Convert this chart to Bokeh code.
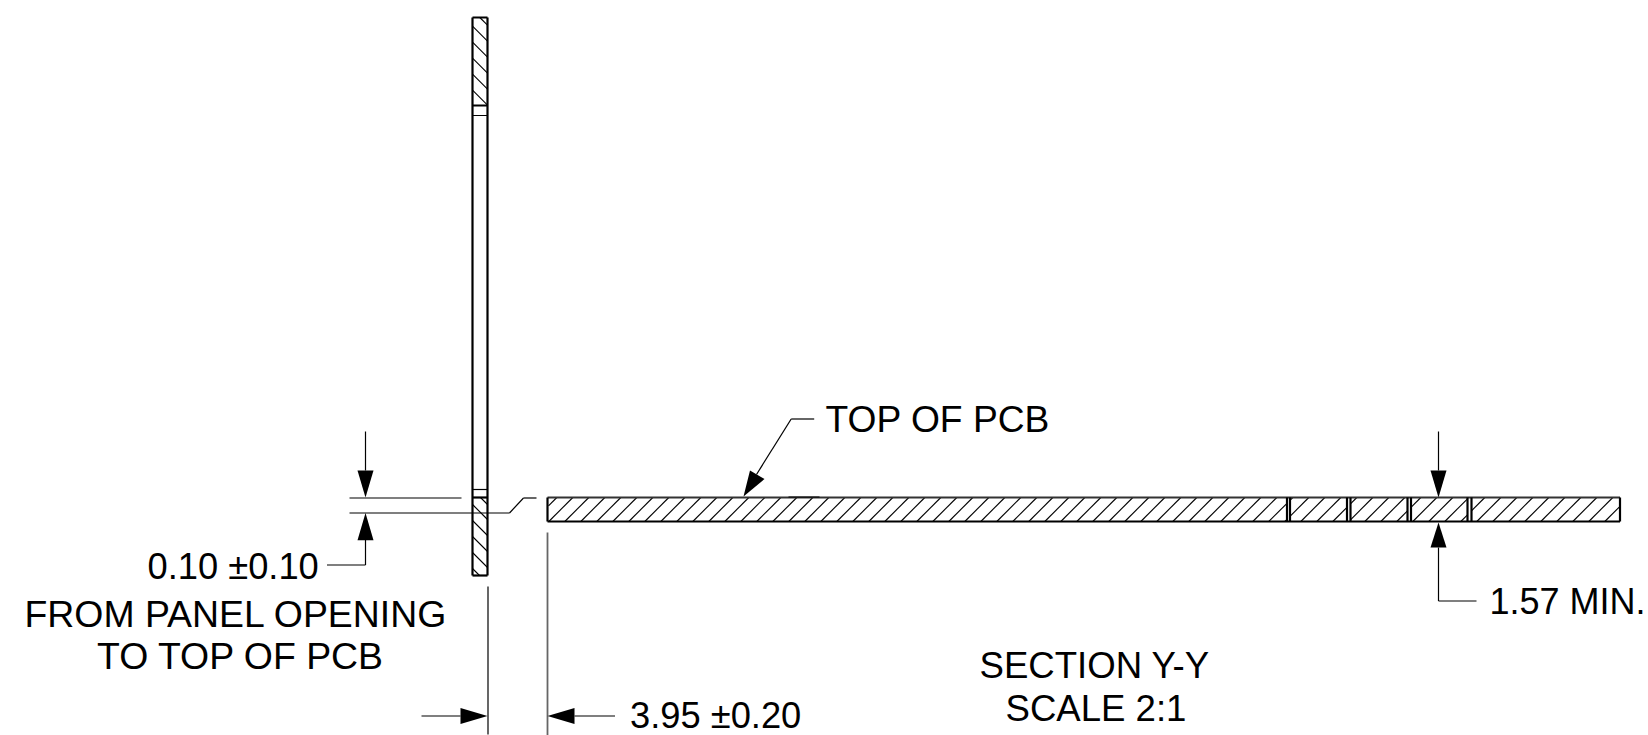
from bokeh.plotting import figure
from bokeh.models import Range1d
from bokeh.core.properties import value
from bokeh.embed import file_html
from bokeh.resources import INLINE

# drawing units are the sheet's own pixels
HEAVY_X0 = [473, 488, 548, 548, 473, 473, 473, 473, 1620.5, 1287.5, 1290.5, 1347.5, 1351, 1408, 1411.5, 1468, 1472]
HEAVY_X1 = [473, 488, 1620.5, 548, 488, 488, 488, 488, 1620.5, 1287.5, 1290.5, 1347.5, 1351, 1408, 1411.5, 1468, 1472]
HEAVY_Y0 = [18, 18, 522, 498, 18, 106, 498, 576, 498, 498, 498, 498, 498, 498, 498, 498, 498]
HEAVY_Y1 = [576, 576, 522, 522, 18, 106, 498, 576, 522, 522, 522, 522, 522, 522, 522, 522, 522]

PCB_TOP_X = [548, 1620.5]
PCB_TOP_Y = [498, 498]
PCB_MARK_X = [789, 820]
PCB_MARK_Y = [497.5, 497.5]

THIN_X0 = [473, 473, 350, 350, 366, 366, 327.5, 488.5, 422, 575, 1439, 1439, 1439, 791.7, 791.7, 510, 524]
THIN_X1 = [488, 488, 462, 510, 366, 366, 366, 488.5, 461, 615.5, 1439, 1439, 1477, 814.7, 757, 524, 537]
THIN_Y0 = [116, 490, 498.5, 513.5, 432, 540, 565.5, 587, 716.5, 716.5, 432, 548, 601.5, 419.5, 419.5, 513.5, 498.5]
THIN_Y1 = [116, 490, 498.5, 513.5, 471, 565.5, 565.5, 735, 716.5, 716.5, 471, 601.5, 601.5, 419.5, 475, 498.5, 498.5]

WITNESS_X = [548, 548]
WITNESS_Y = [533, 736]

ARROW_XS = [
    [358, 374, 366],
    [358, 374, 366],
    [1431, 1447, 1439],
    [1431, 1447, 1439],
    [461, 461, 488],
    [575, 575, 548],
    [750.5, 765, 744],
]
ARROW_YS = [
    [471, 471, 498],
    [540.7, 540.7, 513.5],
    [471, 471, 498],
    [548, 548, 523],
    [708.5, 724.5, 716.5],
    [708.5, 724.5, 716.5],
    [471, 479.5, 497],
]

PCB_CELLS = [(549, 1287), (1291, 1347), (1351, 1408), (1412, 1468), (1472, 1620)]
PCB_HATCH_X = [533.3, 549.3, 565.3, 581.3, 597.3, 613.3, 629.3, 645.3, 661.3, 677.3, 693.3, 709.3,
               725.3, 741.3, 757.3, 773.3, 789.3, 805.3, 821.3, 837.3, 853.3, 869.3, 885.3, 901.3,
               917.3, 933.3, 949.3, 965.3, 981.3, 997.3, 1013.3, 1029.3, 1045.3, 1061.3, 1077.3,
               1093.3, 1109.3, 1125.3, 1141.3, 1157.3, 1173.3, 1189.3, 1205.3, 1221.3, 1237.3,
               1253.3, 1269.3, 1285.3, 1301.3, 1317.3, 1333.3, 1349.3, 1365.3, 1381.3, 1397.3,
               1413.3, 1429.3, 1445.3, 1461.3, 1477.3, 1493.3, 1509.3, 1525.3, 1541.3, 1557.3,
               1573.3, 1589.3, 1605.3]
PANEL_TOP_HATCH_Y = [10.7, 26.7, 42.7, 58.7, 74.7, 90.7]
PANEL_LOW_HATCH_Y = [490, 505, 521, 537, 553, 569]

TEXT = ["0.10 \u00b10.10", "FROM PANEL OPENING", "TO TOP OF PCB", "TOP OF PCB", "1.57 MIN.",
        "3.95 \u00b10.20", "SECTION Y-Y", "SCALE 2:1"]
TEXT_X = [148, 25, 97.5, 826, 1490, 630.5, 980, 1006]
TEXT_Y = [580, 627, 669, 432, 615, 729, 679, 722]
TEXT_SIZE = ["36.3px", "37.4px", "37.4px", "37.2px", "36px", "36.3px", "36.6px", "36.6px"]


def pcb_segments():
    xa, ya, xb, yb = [], [], [], []
    for x0 in PCB_HATCH_X:
        for a, b in PCB_CELLS:
            t0 = max(0, a - x0)
            t1 = min(24, b - x0)
            if t1 > t0:
                xa.append(x0 + t0); ya.append(522 - t0)
                xb.append(x0 + t1); yb.append(522 - t1)
    return xa, ya, xb, yb


def panel_segments(starts, top, bottom):
    xa, ya, xb, yb = [], [], [], []
    for y0 in starts:
        t0 = max(0, top - y0)
        t1 = min(15, bottom - y0)
        if t1 > t0:
            xa.append(473 + t0); ya.append(y0 + t0)
            xb.append(473 + t1); yb.append(y0 + t1)
    return xa, ya, xb, yb


p = figure(width=1648, height=735, x_range=Range1d(1, 1649), y_range=Range1d(736, 1),
           output_backend="svg", toolbar_location=None, min_border=0)
p.axis.visible = False
p.grid.visible = False
p.outline_line_color = None
p.background_fill_color = "white"
p.border_fill_color = "white"

for xa, ya, xb, yb in (pcb_segments(),
                       panel_segments(PANEL_TOP_HATCH_Y, 18, 106),
                       panel_segments(PANEL_LOW_HATCH_Y, 498, 576)):
    p.segment(xa, ya, xb, yb, line_color="#000000", line_width=1.1)

p.line(PCB_TOP_X, PCB_TOP_Y, line_color="#333333", line_width=2)
p.line(PCB_MARK_X, PCB_MARK_Y, line_color="#000000", line_width=1)
p.line(WITNESS_X, WITNESS_Y, line_color="#666666", line_width=1.8)
p.segment(THIN_X0, THIN_Y0, THIN_X1, THIN_Y1, line_color="#000000", line_width=1.2)
p.segment(HEAVY_X0, HEAVY_Y0, HEAVY_X1, HEAVY_Y1, line_color="#000000", line_width=2.2)
p.patches(ARROW_XS, ARROW_YS, fill_color="#000000", line_color=None)

p.text(x=TEXT_X, y=TEXT_Y, text=TEXT, text_font=value("Liberation Sans"),
       text_font_size=TEXT_SIZE, text_color="#000000", text_baseline="alphabetic", text_align="left",
       y_offset=-13)

open("out.html", "w").write(file_html(p, INLINE))
